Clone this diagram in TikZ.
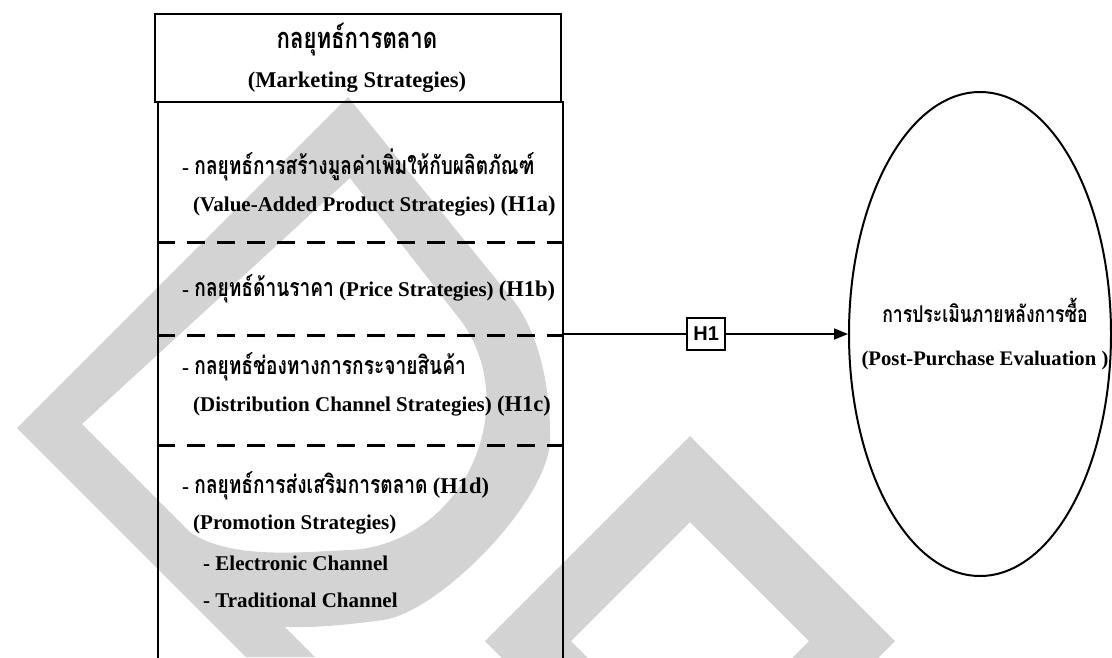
\documentclass[tikz,border=0pt]{standalone}
\usepackage{fontspec}
\setmainfont{Liberation Serif}
\newfontfamily\thaifont[Script=Thai,FakeStretch=0.765]{Loma}
\newfontfamily\labelfont{Liberation Sans}
\usetikzlibrary{arrows.meta,shapes.geometric}
\definecolor{wmgray}{RGB}{211,211,211}
\newcommand\thtxt[1]{{\thaifont\bfseries\fontsize{25}{25}\selectfont #1}}
\newcommand\hyptag[1]{{\fontsize{22.5}{23}\selectfont #1}}

\begin{document}
\begin{tikzpicture}[x=1pt,y=-1pt,
  frame/.style={draw=black,line width=2.4pt,inner sep=0pt},
  divider/.style={draw=black,line width=3pt,dash pattern=on 18pt off 12pt},
  itemtext/.style={anchor=west,inner sep=0pt,font=\bfseries\fontsize{21}{24}\selectfont},
  thaihead/.style={inner sep=0pt,font=\thaifont\bfseries\fontsize{29}{29}\selectfont},
  conn/.style={draw=black,line width=1.8pt,-{Triangle[length=14pt,width=11pt]}},
  hbox/.style={draw=black,fill=white,line width=1.6pt,minimum width=38pt,minimum height=32pt,
    inner sep=0pt,font=\labelfont\bfseries\fontsize{20}{20}\selectfont}
]
\useasboundingbox (0,0) rectangle (1112,657);
\fill[white] (0,0) rectangle (1112,657);

% watermark: chevron with drop-shaped loop
\fill[wmgray,even odd rule]
  (17,428) -- (348,97) -- (513,300)
  .. controls (541,335) and (551,395) .. (550,440)
  .. controls (549,500) and (440,612) .. (383,620)
  .. controls (340,626) and (305,628) .. (285,627)
  -- (315,657) -- (246,657) -- cycle
  (350,178) -- (82,424) -- (190,532)
  .. controls (230,560) and (300,552) .. (350,550)
  .. controls (400,548) and (455,515) .. (478,450)
  .. controls (495,400) and (485,355) .. (462,322) -- cycle;
% watermark: diamond outline
\fill[wmgray,even odd rule]
  (690,436) -- (895,641) -- (690,846) -- (485,641) -- cycle
  (690,522) -- (809,641) -- (690,760) -- (571,641) -- cycle;

% strategy boxes
\node[frame,minimum width=406pt,minimum height=88pt,anchor=north west] (head) at (154,13) {};
\node[frame,minimum width=405pt,minimum height=620pt,anchor=north west] (body) at (157,101) {};

\node[thaihead] (headth) at (357,40) {กลยุทธ์การตลาด};
\node[inner sep=0pt,font=\bfseries\fontsize{22.5}{24}\selectfont] (headen) at (357,82) {(Marketing Strategies)};

% section dividers
\draw[divider] (157,242) -- (562,242);
\draw[divider] (157,335) -- (562,335);
\draw[divider] (157,445) -- (562,445);

% items
\node[itemtext] (a1) at (182,165) {- \thtxt{กลยุทธ์การสร้างมูลค่าเพิ่มให้กับผลิตภัณฑ์}};
\node[itemtext] (a2) at (193,206) {(Value-Added Product Strategies) \hyptag{(H1a)}};
\node[itemtext] (b1) at (182,289) {- \thtxt{กลยุทธ์ด้านราคา} (Price Strategies) \hyptag{(H1b)}};
\node[itemtext] (c1) at (182,367) {- \thtxt{กลยุทธ์ช่องทางการกระจายสินค้า}};
\node[itemtext] (c2) at (193,406) {(Distribution Channel Strategies) \hyptag{(H1c)}};
\node[itemtext] (d1) at (182,486) {- \thtxt{กลยุทธ์การส่งเสริมการตลาด} \hyptag{(H1d)}};
\node[itemtext] (d2) at (193,525) {(Promotion Strategies)};
\node[itemtext] (d3) at (203,563) {- Electronic Channel};
\node[itemtext] (d4) at (203,600) {- Traditional Channel};

% outcome
\node[draw=black,ellipse,line width=2pt,minimum width=262pt,minimum height=484pt,inner sep=0pt] (eval) at (980,334) {};
\node[thaihead,font=\thaifont\bfseries\fontsize{23}{23}\selectfont] (evalth) at (985,310) {การประเมินภายหลังการซื้อ};
\node[inner sep=0pt,font=\bfseries\fontsize{20.7}{24}\selectfont] (evalen) at (985,361) {(Post-Purchase Evaluation )};

% hypothesis link
\draw[conn] (body.east |- eval.west) -- node[hbox] (h1) {H1} (eval.west);
\end{tikzpicture}
\end{document}
